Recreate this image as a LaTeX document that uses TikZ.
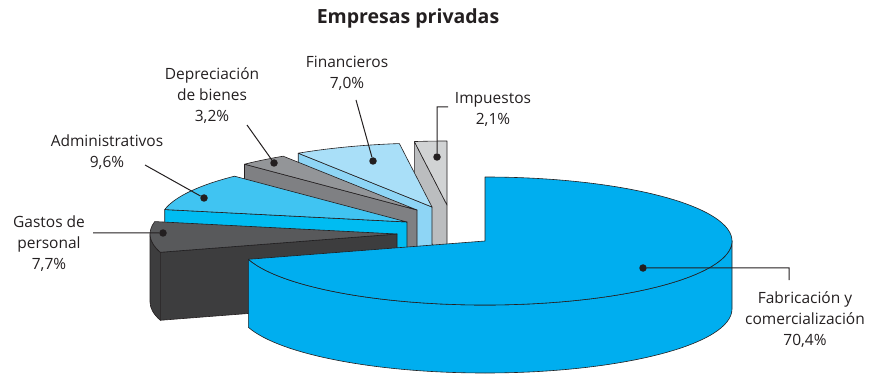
\documentclass[tikz,border=0pt]{standalone}
\usepackage{fontspec}
\setmainfont{Open Sans}
\usepackage{tikz}
\usetikzlibrary{positioning}
\usetikzlibrary{calc}
\definecolor{ink}{HTML}{231F20}
\definecolor{fabtop}{HTML}{00AEEF}
\definecolor{gastop}{HTML}{58595B}
\definecolor{gasfront}{HTML}{3D3D3E}
\definecolor{admtop}{HTML}{40C4F2}
\definecolor{admfront}{HTML}{00BCF2}
\definecolor{deptop}{HTML}{939598}
\definecolor{depfront}{HTML}{7F8083}
\definecolor{fintop}{HTML}{A9DFF8}
\definecolor{finfront}{HTML}{8ED5F5}
\definecolor{imptop}{HTML}{D1D3D4}
\definecolor{impfront}{HTML}{BBBDBF}
\tikzstyle{face}=[draw=ink,line width=0.6pt,line join=round]
\tikzstyle{lbl}=[align=center,inner sep=0pt,text=ink,font=\fontsize{15.5}{21}\selectfont]
\tikzstyle{dot}=[circle,fill=ink,inner sep=0pt,minimum size=7.5pt]
\newcommand{\SmallSlice}[5]{%
  \begin{scope}[shift={#1}]
    \path[face,fill=#5] (0,0) -- (#3:247 and 64) -- ++(0,-68) -- (0,-68) -- cycle;
    \path[face,fill=#4] (0,0) -- (#2:247 and 64) arc[start angle=#2,end angle=#3,x radius=247,y radius=64] -- cycle;
  \end{scope}}

\begin{document}
\begin{tikzpicture}
	[x=1pt,y=1pt]
	\tikzstyle{leader}=[draw=ink,line width=1pt];
	\useasboundingbox (0,0) rectangle (873,-374);

	\node (title) [font=\fontsize{19.5}{23}\selectfont\bfseries,text=ink] at (408,-18) {Empresas privadas};

	\SmallSlice{(447,-205)}{90}{97.6}{imptop}{impfront}
	\SmallSlice{(432,-207)}{97.6}{122.8}{fintop}{finfront}
	\SmallSlice{(417,-210)}{122.8}{134.3}{deptop}{depfront}
	\SmallSlice{(407,-222)}{134.3}{168.8}{admtop}{admfront}
	\begin{scope}[shift={(397,-234)}]
		\path[face,fill=gasfront] (180:247 and 64) arc[start angle=180,end angle=196.6,x radius=247,y radius=64] -- ++(0,-68) arc[start angle=196.6,end angle=180,x radius=247,y radius=64] -- cycle;
	\end{scope}
	\SmallSlice{(397,-234)}{168.8}{196.6}{gastop}{gasfront}
	\begin{scope}[shift={(485,-241)}]
		\path[face,fill=fabtop] (196.6:247 and 64) arc[start angle=196.6,end angle=360,x radius=247,y radius=64] -- ++(0,-68) arc[start angle=360,end angle=196.6,x radius=247,y radius=64] -- cycle;
		\path[face,fill=fabtop] (0,0) -- (196.6:247 and 64) arc[start angle=196.6,end angle=450,x radius=247,y radius=64] -- cycle;
	\end{scope}

	\node (gas) [lbl] at (49,-244) {Gastos de\\personal\\7,7\%};
	\node (adm) [lbl] at (107,-152) {Administrativos\\9,6\%};
	\node (dep) [lbl] at (212,-96) {Depreciación\\de bienes\\3,2\%};
	\node (fin) [lbl] at (347,-73) {Financieros\\7,0\%};
	\node (imp) [lbl] at (493,-109) {Impuestos\\2,1\%};
	\node (fab) [lbl] at (805,-320) {Fabricación y\\comercialización\\70,4\%};

	\node (gasdot) [dot] at (163,-233) {};
	\node (admdot) [dot] at (204,-198) {};
	\node (depdot) [dot] at (274,-163) {};
	\node (findot) [dot] at (373,-161) {};
	\node (impdot) [dot] at (437,-157) {};
	\node (fabdot) [dot] at (643,-268) {};

	\coordinate (gasend) at (93,-233);
	\coordinate (admend) at (145,-165);
	\coordinate (depend) at (247,-125);
	\coordinate (finend) at (356,-100);
	\coordinate (impbend) at (437,-107);
	\coordinate (impend) at (448,-107);
	\coordinate (fabbend) at (789,-268);
	\coordinate (fabend) at (789,-280);

	\path[leader]
		(gasdot) -- (gasend)
		(admdot) -- (admend)
		(depdot) -- (depend)
		(findot) -- (finend)
		(impdot) -- (impbend) -- (impend)
		(fabdot) -- (fabbend) -- (fabend);
\end{tikzpicture}
\end{document}
